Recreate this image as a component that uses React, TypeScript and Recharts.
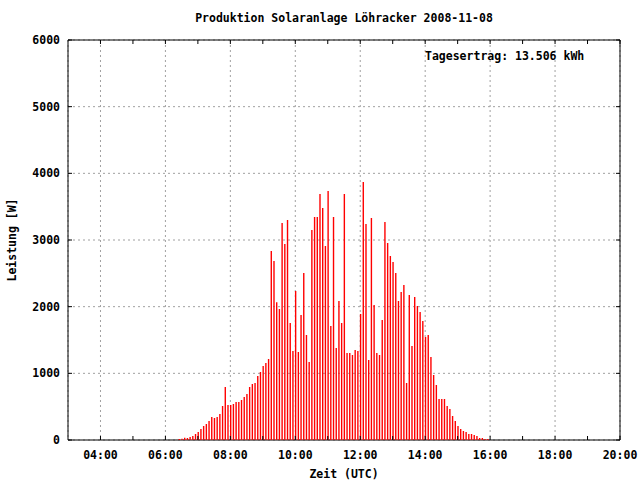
import React from 'react';
import {
  BarChart,
  Bar,
  XAxis,
  YAxis,
  CartesianGrid,
  ReferenceLine,
  ReferenceArea,
  Label,
} from 'recharts';

// Messwerte alle 5 Minuten, erster Wert um 06:25 UTC
const ersterWert = '06:25';
const intervallMin = 5;
const leistung = [
  15, 20, 35, 30, 45, 60, 90,
  120, 165, 210, 240, 285, 345, 330, 345, 390, 510, 795, 525,
  525, 540, 570, 570, 600, 645, 690, 795, 840, 855, 960, 1020,
  1110, 1155, 1215, 2835, 2685, 2065, 1965, 3255, 2940, 3300, 1755, 1335,
  2235, 1320, 1875, 2505, 1575, 1170, 3150, 3345, 3345, 3690, 3480, 2910,
  3735, 1710, 3345, 1380, 2085, 1755, 3690, 1305, 1305, 1275, 1350, 1335,
  1890, 3870, 3240, 1200, 3330, 2025, 1305, 1275, 1800, 3270, 2955, 2760,
  2670, 2505, 2085, 2220, 2325, 855, 2175, 1410, 2145, 2010, 1920, 1785,
  1545, 1575, 1245, 975, 825, 615, 615, 615, 510, 465, 360, 285,
  210, 165, 135, 120, 90, 90, 75, 60, 30, 30, 15, 15,
];

const xTicks = ['04:00', '06:00', '08:00', '10:00', '12:00', '14:00', '16:00', '18:00', '20:00'];
const xMinorTicks = ['05:00', '07:00', '09:00', '11:00', '13:00', '15:00', '17:00', '19:00'];
const yTicks = [0, 1000, 2000, 3000, 4000, 5000, 6000];
const xMin = '03:00';
const xMax = '20:00';

const titel = 'Produktion Solaranlage Löhracker 2008-11-08';
const ertrag = 'Tagesertrag: 13.506 kWh';

const toMin = (s: string) => {
  const [h, m] = s.split(':').map(Number);
  return h * 60 + m;
};
const fmt = (v: number) => {
  const h = Math.floor(v / 60);
  const m = v % 60;
  return `${String(h).padStart(2, '0')}:${String(m).padStart(2, '0')}`;
};

const start = toMin(ersterWert);
const data = leistung.map((w, i) => ({ t: start + i * intervallMin, w }));

const FONT = '"DejaVu Sans Mono", "Liberation Mono", monospace';
const X0 = toMin(xMin);
const X1 = toMin(xMax);
const TICK_X = ((X1 - X0) / 552) * 4;

export default function App() {
  const tickStyle = { fontFamily: FONT, fontSize: 11.5, fontWeight: 'bold', fill: '#000' };
  return (
    <div style={{ position: 'absolute', left: 0, top: 0, width: 640, height: 480, background: '#fff' }}>
      <BarChart width={640} height={480} data={data} margin={{ top: 40, right: 20, left: 8, bottom: 0 }}>
        <CartesianGrid stroke="#a0a0a0" strokeDasharray="2 3" />
        <XAxis
          type="number"
          dataKey="t"
          domain={[X0, X1]}
          ticks={xTicks.map(toMin)}
          tickFormatter={fmt}
          height={40}
          axisLine={false}
          tickLine={false}
          tickSize={0}
          tickMargin={11}
          tick={tickStyle}
          interval={0}
        >
          <Label value="Zeit (UTC)" position="insideBottom" offset={2} style={tickStyle} />
        </XAxis>
        <YAxis
          type="number"
          domain={[0, 6000]}
          ticks={yTicks}
          width={60}
          axisLine={false}
          tickLine={false}
          tickSize={0}
          tickMargin={8}
          tick={tickStyle}
          interval={0}
        >
          <Label value="Leistung [W]" angle={-90} position="insideLeft" offset={4} style={{ ...tickStyle, textAnchor: 'middle' }} />
        </YAxis>
        {xTicks.concat(xMinorTicks).map((s) => (
          <ReferenceLine key={'b' + s} segment={[{ x: toMin(s), y: 0 }, { x: toMin(s), y: 60 }]} stroke="#000" />
        ))}
        {xTicks.concat(xMinorTicks).map((s) => (
          <ReferenceLine key={'t' + s} segment={[{ x: toMin(s), y: 6000 }, { x: toMin(s), y: 5940 }]} stroke="#000" />
        ))}
        {yTicks.map((v) => (
          <ReferenceLine key={'l' + v} segment={[{ x: X0, y: v }, { x: X0 + TICK_X, y: v }]} stroke="#000" />
        ))}
        {yTicks.map((v) => (
          <ReferenceLine key={'r' + v} segment={[{ x: X1, y: v }, { x: X1 - TICK_X, y: v }]} stroke="#000" />
        ))}
        <Bar dataKey="w" fill="#ff0000" barSize={1.4} isAnimationActive={false} />
        <ReferenceArea x1={X0} x2={X1} y1={0} y2={6000} fill="none" fillOpacity={0} stroke="#000" strokeWidth={1} />
      </BarChart>
      <div
        style={{
          position: 'absolute',
          left: 0,
          width: 688,
          top: 11,
          textAlign: 'center',
          fontFamily: FONT,
          fontSize: 11.5,
          fontWeight: 'bold',
          lineHeight: '14px',
        }}
      >
        {titel}
      </div>
      <div
        style={{
          position: 'absolute',
          left: 425,
          top: 49,
          fontFamily: FONT,
          fontSize: 11.5,
          fontWeight: 'bold',
          lineHeight: '14px',
          whiteSpace: 'nowrap',
        }}
      >
        {ertrag}
      </div>
    </div>
  );
}
